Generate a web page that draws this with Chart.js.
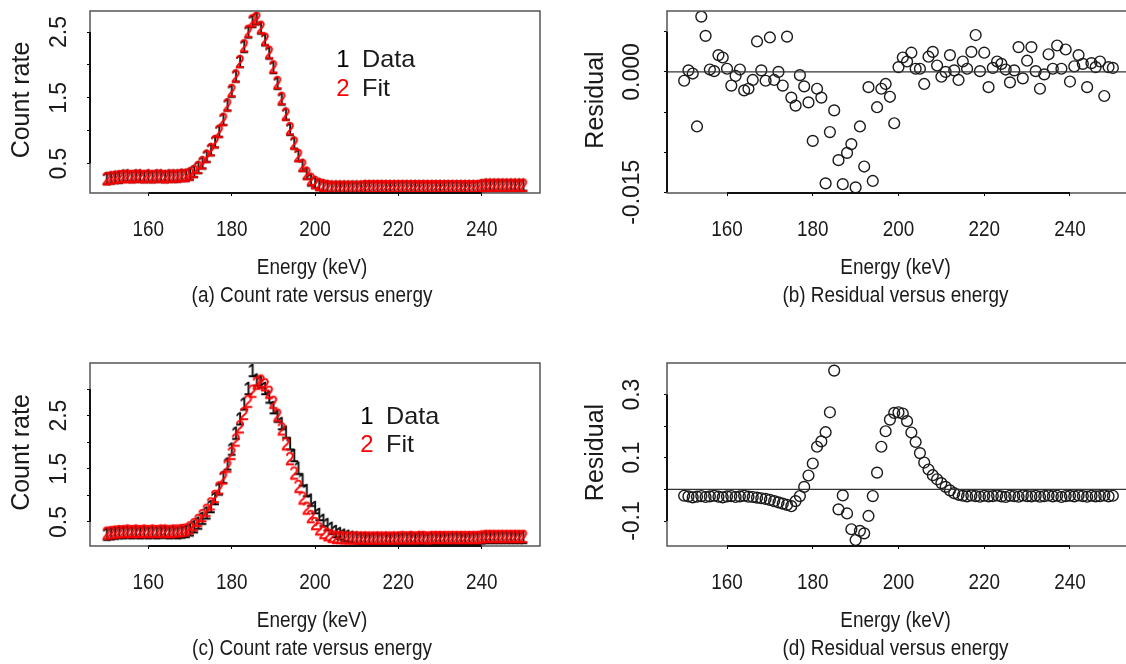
<!DOCTYPE html>
<html>
<head>
<meta charset="utf-8">
<script src="https://cdn.jsdelivr.net/npm/chart.js@4.4.0/dist/chart.umd.min.js"></script>
<style>
  html, body { margin: 0; padding: 0; background: #fff; overflow: hidden; width: 1126px; height: 664px; }
  .panel { position: absolute; }
</style>
</head>
<body>
<div class="panel" style="left:0px;top:0px"><canvas id="chartA" width="563" height="320"></canvas></div>
<div class="panel" style="left:560px;top:0px"><canvas id="chartB" width="580" height="320"></canvas></div>
<div class="panel" style="left:0px;top:353px"><canvas id="chartC" width="563" height="320"></canvas></div>
<div class="panel" style="left:560px;top:353px"><canvas id="chartD" width="580" height="320"></canvas></div>
<script>
// energy channels (keV)
const energy = [150,151,152,153,154,155,156,157,158,159,160,161,162,163,164,165,166,167,168,169,
  170,171,172,173,174,175,176,177,178,179,180,181,182,183,184,185,186,187,188,189,
  190,191,192,193,194,195,196,197,198,199,200,201,202,203,204,205,206,207,208,209,
  210,211,212,213,214,215,216,217,218,219,220,221,222,223,224,225,226,227,228,229,
  230,231,232,233,234,235,236,237,238,239,240,241,242,243,244,245,246,247,248,249,250];

// (a) count rate: data and fit
const dataA = [
  0.28,0.29,0.30,0.30,0.32,0.32,0.31,0.32,0.32,0.31,
  0.32,0.31,0.32,0.32,0.31,0.32,0.32,0.32,0.33,0.33,
  0.35,0.39,0.45,0.52,0.62,0.72,0.84,1.00,1.18,1.40,
  1.61,1.84,2.06,2.29,2.51,2.67,2.71,2.57,2.39,2.19,
  1.97,1.73,1.49,1.26,1.03,0.82,0.63,0.48,0.36,0.26,
  0.22,0.19,0.17,0.16,0.15,0.15,0.15,0.15,0.15,0.15,
  0.15,0.15,0.16,0.16,0.16,0.16,0.16,0.16,0.16,0.16,
  0.16,0.16,0.16,0.16,0.16,0.16,0.16,0.16,0.16,0.16,
  0.16,0.16,0.16,0.16,0.16,0.16,0.16,0.16,0.16,0.16,
  0.17,0.18,0.18,0.18,0.18,0.18,0.18,0.18,0.18,0.18,
  0.18];
const fitA = [
  0.28,0.29,0.30,0.31,0.31,0.32,0.31,0.32,0.32,0.31,
  0.32,0.31,0.32,0.32,0.31,0.32,0.32,0.32,0.33,0.33,
  0.35,0.39,0.45,0.52,0.62,0.72,0.84,1.00,1.18,1.40,
  1.62,1.84,2.06,2.30,2.52,2.68,2.72,2.58,2.40,2.20,
  1.98,1.74,1.50,1.26,1.04,0.82,0.63,0.48,0.36,0.27,
  0.22,0.19,0.17,0.16,0.15,0.15,0.15,0.15,0.15,0.15,
  0.15,0.15,0.16,0.16,0.16,0.16,0.16,0.16,0.16,0.16,
  0.16,0.16,0.16,0.16,0.16,0.16,0.16,0.16,0.16,0.16,
  0.16,0.16,0.16,0.16,0.16,0.16,0.16,0.16,0.16,0.16,
  0.17,0.18,0.18,0.18,0.18,0.18,0.18,0.18,0.18,0.18,
  0.18];

// (b) residual of first fit
const residB = [
  -0.0011,0.0002,-0.0002,-0.0068,0.0069,0.0045,0.0003,0.0001,0.0021,0.0018,
  0.0004,-0.0017,-0.0005,0.0003,-0.0023,-0.0021,-0.0010,0.0038,0.0002,-0.0011,
  0.0043,-0.0010,0.0000,-0.0017,0.0044,-0.0032,-0.0042,-0.0004,-0.0018,-0.0038,
  -0.0086,-0.0021,-0.0032,-0.0139,-0.0075,-0.0048,-0.0110,-0.0140,-0.0101,-0.0090,
  -0.0144,-0.0068,-0.0118,-0.0019,-0.0136,-0.0044,-0.0021,-0.0015,-0.0031,-0.0064,
  0.0006,0.0018,0.0013,0.0024,0.0004,0.0004,-0.0015,0.0019,0.0025,0.0008,
  -0.0006,0.0000,0.0021,0.0002,-0.0010,0.0013,0.0004,0.0025,0.0046,0.0001,
  0.0024,-0.0019,0.0005,0.0013,0.0010,0.0003,-0.0013,0.0002,0.0031,-0.0008,
  0.0014,0.0031,0.0001,-0.0021,-0.0003,0.0022,0.0004,0.0033,0.0004,0.0028,
  -0.0012,0.0007,0.0021,0.0010,-0.0019,0.0011,0.0006,0.0013,-0.0030,0.0006,
  0.0005];

// (c) count rate: data and fit
const dataC = [
  0.28,0.29,0.30,0.31,0.31,0.32,0.31,0.32,0.31,0.32,
  0.31,0.32,0.31,0.32,0.32,0.31,0.32,0.31,0.32,0.33,
  0.36,0.42,0.49,0.58,0.68,0.80,0.95,1.13,1.35,1.60,
  1.88,2.18,2.45,2.73,3.02,3.36,3.18,3.14,3.02,2.86,
  2.66,2.50,2.36,2.20,1.98,1.76,1.52,1.30,1.10,0.92,
  0.78,0.65,0.54,0.46,0.39,0.33,0.29,0.26,0.24,0.22,
  0.21,0.20,0.20,0.19,0.19,0.20,0.19,0.20,0.19,0.20,
  0.20,0.19,0.20,0.20,0.19,0.20,0.20,0.19,0.20,0.20,
  0.20,0.20,0.19,0.20,0.20,0.20,0.19,0.20,0.20,0.20,
  0.21,0.22,0.22,0.22,0.22,0.22,0.22,0.22,0.22,0.22,
  0.22];
const fitC = [
  0.30,0.31,0.32,0.33,0.33,0.34,0.33,0.34,0.33,0.34,
  0.33,0.34,0.33,0.34,0.34,0.33,0.34,0.34,0.35,0.36,
  0.40,0.46,0.54,0.63,0.73,0.85,0.99,1.15,1.34,1.56,
  1.80,2.05,2.30,2.55,2.78,2.97,3.12,3.16,3.09,2.95,
  2.76,2.52,2.26,1.98,1.70,1.43,1.18,0.96,0.77,0.61,
  0.48,0.38,0.31,0.27,0.24,0.22,0.22,0.21,0.21,0.21,
  0.21,0.21,0.21,0.21,0.21,0.21,0.21,0.21,0.21,0.21,
  0.21,0.22,0.21,0.22,0.21,0.22,0.22,0.21,0.22,0.22,
  0.22,0.22,0.22,0.22,0.22,0.22,0.22,0.22,0.22,0.22,
  0.23,0.24,0.24,0.24,0.24,0.24,0.24,0.24,0.24,0.24,
  0.24];

// (d) residual of second fit
const residD = [
  -0.020,-0.022,-0.025,-0.023,-0.021,-0.024,-0.022,-0.020,-0.023,-0.025,
  -0.022,-0.021,-0.024,-0.022,-0.020,-0.023,-0.024,-0.026,-0.028,-0.030,
  -0.033,-0.037,-0.041,-0.045,-0.049,-0.053,-0.037,-0.021,0.008,0.044,
  0.082,0.135,0.152,0.181,0.244,0.376,-0.063,-0.019,-0.076,-0.126,
  -0.160,-0.131,-0.139,-0.084,-0.021,0.053,0.135,0.184,0.221,0.242,
  0.244,0.240,0.216,0.180,0.150,0.115,0.085,0.063,0.045,0.032,
  0.020,0.008,-0.003,-0.012,-0.017,-0.020,-0.022,-0.019,-0.021,-0.023,
  -0.020,-0.022,-0.021,-0.019,-0.022,-0.024,-0.020,-0.021,-0.023,-0.019,
  -0.021,-0.022,-0.020,-0.023,-0.021,-0.019,-0.022,-0.020,-0.024,-0.021,
  -0.020,-0.022,-0.019,-0.021,-0.023,-0.020,-0.022,-0.021,-0.019,-0.022,
  -0.020];

// axis ticks and labels
const xTicks = [160, 180, 200, 220, 240];
const yTicksA = [0.5, 1.0, 1.5, 2.0, 2.5];
const yLabelsA = [0.5, 1.5, 2.5];
const yTicksB = [-0.015, -0.010, -0.005, 0.000, 0.005];
const yLabelsB = [-0.015, 0.000];
const yTicksC = [0.5, 1.0, 1.5, 2.0, 2.5, 3.0];
const yLabelsC = [0.5, 1.5, 2.5];
const yTicksD = [-0.1, 0.0, 0.1, 0.2, 0.3];
const yLabelsD = [-0.1, 0.1, 0.3];

const FONT = '"Liberation Sans", Arial, Helvetica, sans-serif';
const TEXT = '#1a1a1a';
const SQUEEZE = 0.86;   // the original figure is narrower than it is tall

// R style "1" / "2" plotting characters
function glyph(ch, color) {
  const c = document.createElement('canvas');
  c.width = 16;
  c.height = 22;
  const g = c.getContext('2d');
  g.translate(8, 18);
  g.scale(0.88, 1);
  g.font = '19px ' + FONT;
  g.fillStyle = color;
  g.strokeStyle = color;
  g.lineWidth = 0.5;
  g.textAlign = 'center';
  g.textBaseline = 'alphabetic';
  g.fillText(ch, 0, 0);
  g.strokeText(ch, 0, 0);
  return c;
}
const glyphOne = glyph('1', '#000000');
const glyphTwo = glyph('2', '#ff0000');

function pairs(xs, ys) {
  return xs.map((x, i) => ({ x: x, y: ys[i] }));
}

// horizontal text, squeezed sideways like the source figure
function hText(ctx, str, x, y, size, sx, align) {
  ctx.save();
  ctx.translate(x, y);
  ctx.scale(sx, 1);
  ctx.font = size + 'px ' + FONT;
  ctx.textAlign = align || 'center';
  ctx.textBaseline = 'middle';
  ctx.fillText(str, 0, 0);
  ctx.restore();
}
// text read from bottom to top
function vText(ctx, str, x, y, size) {
  ctx.save();
  ctx.translate(x, y);
  ctx.rotate(-Math.PI / 2);
  ctx.font = size + 'px ' + FONT;
  ctx.textAlign = 'center';
  ctx.textBaseline = 'middle';
  ctx.fillText(str, 0, 0);
  ctx.restore();
}

// box, axis lines, all texts, zero line and legend
const panelDecor = {
  id: 'panelDecor',
  afterDraw(chart, args, o) {
    const ctx = chart.ctx;
    const a = chart.chartArea;
    const xs = chart.scales.x, ys = chart.scales.y;
    ctx.save();
    if (o.zeroLine) {
      const y0 = ys.getPixelForValue(0);
      ctx.strokeStyle = '#333';
      ctx.lineWidth = 1.3;
      ctx.beginPath();
      ctx.moveTo(a.left, y0);
      ctx.lineTo(a.right, y0);
      ctx.stroke();
    }
    ctx.strokeStyle = '#555';
    ctx.lineWidth = 1.5;
    ctx.strokeRect(a.left, a.top, a.right - a.left, a.bottom - a.top);

    ctx.strokeStyle = '#111';
    ctx.lineWidth = 2;
    ctx.beginPath();
    ctx.moveTo(xs.getPixelForValue(xTicks[0]), a.bottom);
    ctx.lineTo(xs.getPixelForValue(xTicks[xTicks.length - 1]), a.bottom);
    ctx.moveTo(a.left, ys.getPixelForValue(o.yTicks[0]));
    ctx.lineTo(a.left, ys.getPixelForValue(o.yTicks[o.yTicks.length - 1]));
    ctx.stroke();

    ctx.fillStyle = TEXT;
    const cx = (a.left + a.right) / 2;
    xTicks.forEach(v => hText(ctx, String(v), xs.getPixelForValue(v), a.bottom + 37, 22, SQUEEZE));
    hText(ctx, 'Energy (keV)', cx - 3, a.bottom + 75, 22, SQUEEZE);
    hText(ctx, o.caption, cx - 3, a.bottom + 103, 22, SQUEEZE);

    o.yLabels.forEach(v => vText(ctx, v.toFixed(o.digits), a.left - o.labelOffset, ys.getPixelForValue(v), 23));
    vText(ctx, o.yTitle, a.left - o.titleOffset, (a.top + a.bottom) / 2 - 2, 25);

    if (o.legend) {
      const lx = a.left + o.legend.x;
      ctx.fillStyle = '#000';
      hText(ctx, '1', lx, a.top + o.legend.y1, 24, 1);
      ctx.fillStyle = '#ff0000';
      hText(ctx, '2', lx, a.top + o.legend.y2, 24, 1);
      ctx.fillStyle = TEXT;
      hText(ctx, 'Data', lx + 19, a.top + o.legend.y1, 24, 1.05, 'left');
      hText(ctx, 'Fit', lx + 19, a.top + o.legend.y2, 24, 1.05, 'left');
    }
    ctx.restore();
  }
};

function makePanel(id, p) {
  return new Chart(document.getElementById(id), {
    type: 'scatter',
    data: { datasets: p.datasets },
    options: {
      responsive: false,
      animation: false,
      devicePixelRatio: 1,
      events: [],
      layout: { padding: { top: p.padTop, right: p.padRight, left: 0, bottom: 0 } },
      plugins: {
        legend: { display: false },
        tooltip: { enabled: false },
        panelDecor: {
          yTicks: p.yTicks, yLabels: p.yLabels, digits: p.digits,
          labelOffset: p.labelOffset, titleOffset: p.titleOffset,
          yTitle: p.yTitle, caption: p.caption,
          zeroLine: p.zeroLine, legend: p.legend
        }
      },
      scales: {
        x: {
          type: 'linear', min: 146, max: 254,
          afterBuildTicks: s => { s.ticks = xTicks.map(v => ({ value: v })); },
          afterFit: s => { s.height = 127; },
          grid: { drawOnChartArea: false, drawTicks: true, tickLength: 3, color: '#000' },
          border: { display: false },
          ticks: { display: false }
        },
        y: {
          type: 'linear', min: p.yMin, max: p.yMax,
          afterBuildTicks: s => { s.ticks = p.yTicks.map(v => ({ value: v })); },
          afterFit: s => { s.width = p.yWidth; },
          grid: { drawOnChartArea: false, drawTicks: true, tickLength: 3, color: '#000' },
          border: { display: false },
          ticks: { display: false }
        }
      }
    },
    plugins: [panelDecor]
  });
}

function countSets(dataVals, fitVals) {
  return [
    { data: pairs(energy, dataVals), pointStyle: glyphOne, pointRadius: 3, order: 2, clip: 0 },
    { data: pairs(energy, fitVals), pointStyle: glyphTwo, pointRadius: 3, order: 1, clip: 0 }
  ];
}
function residSets(vals) {
  return [{
    data: pairs(energy, vals), pointStyle: 'circle', pointRadius: 5.4,
    pointBorderWidth: 1.4, pointBorderColor: '#1a1a1a', pointBackgroundColor: 'rgba(0,0,0,0)', clip: 0
  }];
}

makePanel('chartA', {
  datasets: countSets(dataA, fitA), padTop: 11, padRight: 23, yWidth: 90,
  yMin: 0.053, yMax: 2.82, yTicks: yTicksA, yLabels: yLabelsA, digits: 1,
  labelOffset: 30, titleOffset: 68,
  yTitle: 'Count rate', caption: '(a) Count rate versus energy',
  legend: { x: 253, y1: 49, y2: 78 }
});
makePanel('chartB', {
  datasets: residSets(residB), padTop: 11, padRight: 10, yWidth: 107,
  yMin: -0.0151, yMax: 0.0076, yTicks: yTicksB, yLabels: yLabelsB, digits: 3,
  labelOffset: 34, titleOffset: 71,
  yTitle: 'Residual', caption: '(b) Residual versus energy', zeroLine: true
});
makePanel('chartC', {
  datasets: countSets(dataC, fitC), padTop: 10, padRight: 23, yWidth: 90,
  yMin: 0.048, yMax: 3.49, yTicks: yTicksC, yLabels: yLabelsC, digits: 1,
  labelOffset: 30, titleOffset: 68,
  yTitle: 'Count rate', caption: '(c) Count rate versus energy',
  legend: { x: 277, y1: 54, y2: 82 }
});
makePanel('chartD', {
  datasets: residSets(residD), padTop: 10, padRight: 10, yWidth: 107,
  yMin: -0.179, yMax: 0.40, yTicks: yTicksD, yLabels: yLabelsD, digits: 1,
  labelOffset: 34, titleOffset: 71,
  yTitle: 'Residual', caption: '(d) Residual versus energy', zeroLine: true
});
</script>
</body>
</html>
